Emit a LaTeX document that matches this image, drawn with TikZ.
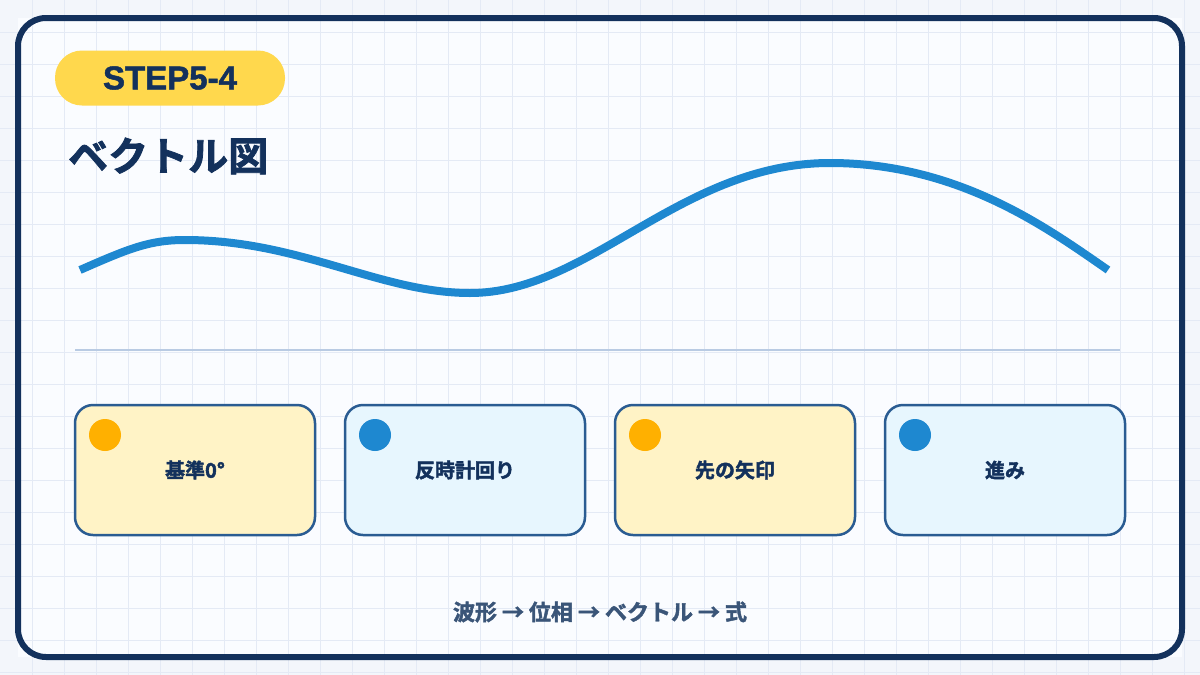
\documentclass[tikz,border=0pt]{standalone}
\usepackage{fontspec}
\setmainfont{Noto Sans CJK JP}
\newfontfamily\cjk{Noto Sans CJK JP}[BoldFont={Noto Sans CJK JP Bold}, BoldFeatures={FakeBold=2}]
\newfontfamily\latin{Liberation Sans}[BoldFeatures={FakeBold=1.5}]
\usetikzlibrary{positioning,calc}

\definecolor{navy}{HTML}{13315C}
\definecolor{wavecol}{HTML}{1E88D0}
\definecolor{gridcol}{HTML}{E4EAF5}
\definecolor{pagecol}{HTML}{F3F6FB}
\definecolor{panelcol}{HTML}{FAFCFF}
\definecolor{pillcol}{HTML}{FFD84D}
\definecolor{rulecol}{HTML}{B9CBE3}
\definecolor{cardedge}{HTML}{2A5C92}
\definecolor{cardyel}{HTML}{FFF3C6}
\definecolor{cardblu}{HTML}{E7F6FE}
\definecolor{dotorg}{HTML}{FFB000}
\definecolor{flowcol}{HTML}{3A5578}

\tikzset{
  gridline/.style={draw=gridcol, line width=1pt},
  card/.style={draw=cardedge, line width=2.5pt, rounded corners=18pt, outer sep=0pt,
    minimum width=240pt, minimum height=130pt, font=\cjk\bfseries\fontsize{20}{23}\selectfont, text=navy},
  dot/.style={circle, minimum size=32pt, inner sep=0pt},
}

\begin{document}
\begin{tikzpicture}[x=1pt,y=-1pt]

			\useasboundingbox (0,0) rectangle (1200,675);
			\fill[pagecol] (0,0) rectangle (1200,675);
			\fill[panelcol] (18,18) rectangle (1182,657);

			\foreach \gx in {32,64,...,1184} \draw[gridline] (\gx,0) -- (\gx,675);
			\foreach \gy in {32,64,...,672} \draw[gridline] (0,\gy) -- (1200,\gy);

			\draw[navy, line width=6pt, rounded corners=28pt] (18,18) rectangle (1182,657);

			\node[fill=pillcol, rounded corners=27pt, minimum width=230pt, minimum height=55pt,
			  font=\latin\bfseries\fontsize{33}{36}\selectfont, text=navy] (step) at (170,78) {STEP5-4};
			\node[anchor=west, font=\cjk\bfseries\fontsize{40}{44}\selectfont, text=navy, inner sep=0pt] (title) at (68,156) {ベクトル図};

			\draw[wavecol, line width=8pt] (80,270) .. controls (130,248) and (150,240) .. (185,240)
			  .. controls (300,240) and (380,293) .. (470,293)
			  .. controls (590,293) and (680,163) .. (830,163)
			  .. controls (960,163) and (1050,230) .. (1108,270);

			\draw[rulecol, line width=2pt] (75,350) -- (1120,350);

			\node[card, fill=cardyel] (c1) at (195,470) {基準0°};
			\node[card, fill=cardblu, right=30pt of c1] (c2) {反時計回り};
			\node[card, fill=cardyel, right=30pt of c2] (c3) {先の矢印};
			\node[card, fill=cardblu, right=30pt of c3] (c4) {進み};

			\node[dot, fill=dotorg] at ($(c1.north west)+(30,30)$) {};
			\node[dot, fill=wavecol] at ($(c2.north west)+(30,30)$) {};
			\node[dot, fill=dotorg] at ($(c3.north west)+(30,30)$) {};
			\node[dot, fill=wavecol] at ($(c4.north west)+(30,30)$) {};

			\node[font=\cjk\bfseries\fontsize{22}{26}\selectfont, text=flowcol] (flow) at (600,612) {波形 → 位相 → ベクトル → 式};

		\end{tikzpicture}
\end{document}
